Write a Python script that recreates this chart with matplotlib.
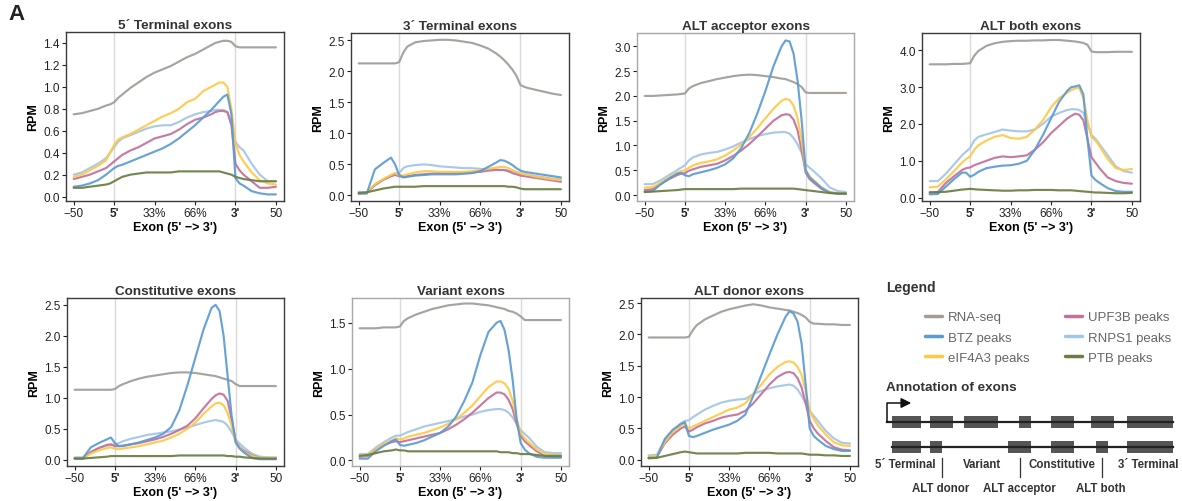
import numpy as np
import matplotlib.pyplot as plt
from matplotlib.patches import Rectangle
from matplotlib.ticker import FormatStrFormatter

plt.rcParams['font.family'] = ['Liberation Sans', 'DejaVu Sans']

# position along the meta-exon: 0-1 upstream intron, 1-4 exon body, 4-5 downstream intron
X = [0, 0.2, 0.4, 0.6, 0.8, 0.9, 1.0, 1.1, 1.2, 1.4, 1.6, 1.8, 2.0, 2.2, 2.4, 2.6,
     2.8, 3.0, 3.2, 3.4, 3.5, 3.6, 3.7, 3.8, 3.9, 4.0, 4.1, 4.2, 4.4, 4.6, 4.8, 5.0]
XTICK_LABELS = ["\u221250", "5'", "33%", "66%", "3'", "50"]

SERIES = ["RNA-seq", "BTZ peaks", "eIF4A3 peaks", "UPF3B peaks", "RNPS1 peaks", "PTB peaks"]
COLORS = ["#a09c97", "#5b9bd5", "#ffc845", "#c4709a", "#a3c5e6", "#6b7d43"]

# 5' terminal exons
t5_rna = [0.75, 0.76, 0.78, 0.80, 0.83, 0.84, 0.86, 0.90, 0.93, 0.99, 1.04, 1.09, 1.13, 1.16, 1.19, 1.23,
          1.27, 1.30, 1.34, 1.38, 1.40, 1.41, 1.42, 1.42, 1.41, 1.37, 1.36, 1.36, 1.36, 1.36, 1.36, 1.36]
t5_btz = [0.09, 0.10, 0.12, 0.15, 0.20, 0.23, 0.26, 0.28, 0.29, 0.32, 0.35, 0.38, 0.41, 0.44, 0.48, 0.53,
          0.59, 0.65, 0.72, 0.79, 0.83, 0.87, 0.91, 0.93, 0.75, 0.17, 0.12, 0.10, 0.05, 0.03, 0.02, 0.02]
t5_eif = [0.18, 0.20, 0.24, 0.28, 0.33, 0.40, 0.47, 0.52, 0.54, 0.57, 0.61, 0.65, 0.69, 0.73, 0.76, 0.80,
          0.86, 0.89, 0.96, 1.00, 1.02, 1.04, 1.04, 1.00, 0.80, 0.48, 0.38, 0.32, 0.22, 0.15, 0.12, 0.11]
t5_upf = [0.16, 0.18, 0.20, 0.23, 0.26, 0.29, 0.32, 0.35, 0.38, 0.42, 0.45, 0.49, 0.53, 0.55, 0.57, 0.61,
          0.66, 0.70, 0.72, 0.75, 0.77, 0.78, 0.78, 0.77, 0.65, 0.30, 0.24, 0.20, 0.14, 0.08, 0.08, 0.09]
t5_rnps = [0.20, 0.22, 0.26, 0.30, 0.35, 0.40, 0.45, 0.50, 0.53, 0.56, 0.59, 0.62, 0.64, 0.65, 0.65, 0.68,
           0.72, 0.75, 0.77, 0.78, 0.79, 0.79, 0.79, 0.77, 0.68, 0.50, 0.45, 0.42, 0.30, 0.20, 0.14, 0.14]
t5_ptb = [0.08, 0.08, 0.09, 0.10, 0.11, 0.12, 0.14, 0.16, 0.18, 0.20, 0.21, 0.22, 0.22, 0.22, 0.22, 0.23,
          0.23, 0.23, 0.23, 0.23, 0.23, 0.23, 0.22, 0.21, 0.20, 0.18, 0.17, 0.16, 0.15, 0.14, 0.14, 0.14]

# 3' terminal exons
t3_rna = [2.13, 2.13, 2.13, 2.13, 2.13, 2.13, 2.15, 2.30, 2.40, 2.47, 2.49, 2.50, 2.51, 2.51, 2.50, 2.48,
          2.46, 2.42, 2.37, 2.29, 2.24, 2.18, 2.11, 2.03, 1.93, 1.78, 1.75, 1.73, 1.70, 1.67, 1.64, 1.62]
t3_btz = [0.03, 0.03, 0.42, 0.52, 0.61, 0.50, 0.33, 0.29, 0.30, 0.32, 0.33, 0.34, 0.34, 0.34, 0.34, 0.35,
          0.36, 0.39, 0.46, 0.53, 0.57, 0.56, 0.53, 0.49, 0.44, 0.40, 0.38, 0.37, 0.35, 0.33, 0.31, 0.29]
t3_eif = [0.04, 0.05, 0.18, 0.26, 0.33, 0.36, 0.33, 0.32, 0.34, 0.37, 0.39, 0.39, 0.38, 0.38, 0.38, 0.38,
          0.39, 0.41, 0.43, 0.45, 0.46, 0.46, 0.44, 0.41, 0.38, 0.36, 0.34, 0.33, 0.30, 0.28, 0.26, 0.25]
t3_upf = [0.03, 0.04, 0.17, 0.25, 0.31, 0.33, 0.31, 0.30, 0.31, 0.33, 0.34, 0.35, 0.36, 0.36, 0.36, 0.36,
          0.37, 0.38, 0.40, 0.41, 0.41, 0.41, 0.39, 0.36, 0.34, 0.32, 0.31, 0.30, 0.28, 0.26, 0.24, 0.22]
t3_rnps = [0.06, 0.05, 0.16, 0.25, 0.32, 0.35, 0.36, 0.44, 0.47, 0.49, 0.50, 0.49, 0.47, 0.46, 0.45, 0.44,
           0.44, 0.43, 0.42, 0.42, 0.41, 0.41, 0.40, 0.39, 0.37, 0.35, 0.34, 0.33, 0.31, 0.29, 0.27, 0.26]
t3_ptb = [0.04, 0.05, 0.08, 0.11, 0.13, 0.14, 0.14, 0.14, 0.14, 0.14, 0.15, 0.15, 0.15, 0.15, 0.15, 0.15,
          0.15, 0.15, 0.15, 0.15, 0.15, 0.15, 0.14, 0.14, 0.13, 0.11, 0.10, 0.10, 0.10, 0.10, 0.10, 0.10]

# ALT acceptor exons
acc_rna = [2.00, 2.00, 2.01, 2.02, 2.03, 2.04, 2.05, 2.15, 2.20, 2.26, 2.30, 2.34, 2.37, 2.40, 2.42, 2.43,
           2.42, 2.40, 2.38, 2.35, 2.34, 2.31, 2.28, 2.24, 2.18, 2.07, 2.06, 2.06, 2.06, 2.06, 2.06, 2.06]
acc_btz = [0.07, 0.08, 0.22, 0.33, 0.43, 0.45, 0.40, 0.38, 0.42, 0.46, 0.50, 0.55, 0.62, 0.74, 0.95, 1.25,
           1.65, 2.10, 2.60, 3.00, 3.12, 3.10, 2.85, 2.30, 1.50, 0.50, 0.35, 0.28, 0.14, 0.05, 0.03, 0.03]
acc_eif = [0.15, 0.16, 0.25, 0.35, 0.45, 0.48, 0.50, 0.55, 0.60, 0.65, 0.68, 0.72, 0.80, 0.90, 1.02, 1.17,
           1.35, 1.55, 1.74, 1.90, 1.94, 1.92, 1.80, 1.55, 1.10, 0.50, 0.38, 0.30, 0.15, 0.06, 0.04, 0.04]
acc_upf = [0.10, 0.12, 0.22, 0.32, 0.40, 0.43, 0.44, 0.49, 0.52, 0.57, 0.60, 0.63, 0.70, 0.79, 0.90, 1.03,
           1.18, 1.34, 1.50, 1.61, 1.63, 1.62, 1.52, 1.30, 0.90, 0.45, 0.32, 0.25, 0.12, 0.05, 0.03, 0.03]
acc_rnps = [0.22, 0.22, 0.30, 0.40, 0.50, 0.55, 0.60, 0.70, 0.76, 0.82, 0.85, 0.87, 0.92, 0.98, 1.06, 1.13,
            1.19, 1.23, 1.26, 1.27, 1.27, 1.24, 1.15, 1.02, 0.85, 0.62, 0.55, 0.48, 0.33, 0.15, 0.08, 0.06]
acc_ptb = [0.06, 0.07, 0.08, 0.09, 0.10, 0.11, 0.12, 0.12, 0.12, 0.12, 0.12, 0.12, 0.12, 0.12, 0.13, 0.13,
           0.13, 0.13, 0.13, 0.13, 0.13, 0.13, 0.13, 0.12, 0.11, 0.10, 0.09, 0.08, 0.06, 0.04, 0.03, 0.03]

# ALT both exons
both_rna = [3.62, 3.62, 3.62, 3.63, 3.63, 3.64, 3.65, 3.85, 3.98, 4.12, 4.19, 4.23, 4.25, 4.26, 4.26, 4.27,
            4.27, 4.28, 4.28, 4.26, 4.25, 4.24, 4.22, 4.20, 4.15, 3.97, 3.95, 3.95, 3.95, 3.96, 3.96, 3.96]
both_btz = [0.09, 0.10, 0.30, 0.50, 0.68, 0.68, 0.57, 0.62, 0.70, 0.80, 0.84, 0.87, 0.88, 0.92, 1.00, 1.30,
            1.70, 2.15, 2.60, 2.90, 3.00, 3.02, 3.05, 2.80, 1.60, 0.60, 0.48, 0.40, 0.26, 0.18, 0.16, 0.16]
both_eif = [0.28, 0.30, 0.50, 0.72, 0.95, 1.05, 1.12, 1.30, 1.42, 1.55, 1.65, 1.70, 1.62, 1.60, 1.65, 1.85,
            2.10, 2.45, 2.70, 2.85, 2.92, 2.97, 2.98, 2.70, 2.10, 1.65, 1.55, 1.40, 1.05, 0.80, 0.75, 0.78]
both_upf = [0.12, 0.15, 0.40, 0.58, 0.75, 0.80, 0.82, 0.88, 0.92, 1.00, 1.08, 1.12, 1.10, 1.12, 1.15, 1.30,
            1.50, 1.75, 1.95, 2.15, 2.22, 2.28, 2.25, 2.10, 1.60, 1.10, 0.95, 0.80, 0.55, 0.45, 0.40, 0.38]
both_rnps = [0.45, 0.45, 0.65, 0.90, 1.15, 1.25, 1.35, 1.55, 1.65, 1.72, 1.78, 1.85, 1.82, 1.80, 1.80, 1.85,
             2.00, 2.20, 2.30, 2.38, 2.40, 2.40, 2.38, 2.30, 2.00, 1.70, 1.60, 1.45, 1.15, 0.85, 0.72, 0.68]
both_ptb = [0.15, 0.15, 0.16, 0.19, 0.22, 0.23, 0.24, 0.23, 0.22, 0.21, 0.20, 0.19, 0.19, 0.20, 0.20, 0.21,
            0.21, 0.21, 0.20, 0.20, 0.20, 0.19, 0.18, 0.17, 0.16, 0.15, 0.14, 0.14, 0.13, 0.12, 0.12, 0.13]

# constitutive exons
con_rna = [1.13, 1.13, 1.13, 1.13, 1.13, 1.13, 1.14, 1.19, 1.22, 1.27, 1.31, 1.34, 1.36, 1.38, 1.40, 1.41,
           1.41, 1.40, 1.38, 1.36, 1.35, 1.33, 1.31, 1.29, 1.27, 1.22, 1.19, 1.19, 1.19, 1.19, 1.19, 1.19]
con_btz = [0.02, 0.02, 0.20, 0.27, 0.33, 0.36, 0.27, 0.22, 0.22, 0.25, 0.28, 0.32, 0.36, 0.42, 0.53, 0.80,
           1.20, 1.65, 2.10, 2.45, 2.50, 2.40, 2.00, 1.35, 0.70, 0.28, 0.18, 0.12, 0.03, 0.01, 0.01, 0.01]
con_eif = [0.02, 0.02, 0.10, 0.15, 0.19, 0.20, 0.18, 0.17, 0.18, 0.20, 0.22, 0.25, 0.28, 0.31, 0.36, 0.42,
           0.50, 0.60, 0.74, 0.86, 0.91, 0.92, 0.88, 0.75, 0.55, 0.28, 0.20, 0.13, 0.06, 0.03, 0.03, 0.03]
con_upf = [0.02, 0.02, 0.12, 0.19, 0.24, 0.25, 0.22, 0.22, 0.23, 0.25, 0.27, 0.30, 0.33, 0.37, 0.42, 0.48,
           0.55, 0.67, 0.83, 0.98, 1.04, 1.07, 1.05, 0.95, 0.65, 0.30, 0.20, 0.15, 0.07, 0.03, 0.02, 0.02]
con_rnps = [0.04, 0.04, 0.13, 0.19, 0.23, 0.24, 0.25, 0.27, 0.30, 0.34, 0.37, 0.40, 0.42, 0.44, 0.46, 0.49,
            0.52, 0.56, 0.60, 0.63, 0.64, 0.63, 0.61, 0.55, 0.45, 0.32, 0.26, 0.20, 0.10, 0.05, 0.04, 0.04]
con_ptb = [0.02, 0.02, 0.03, 0.04, 0.05, 0.06, 0.06, 0.06, 0.06, 0.06, 0.06, 0.06, 0.06, 0.06, 0.06, 0.07,
           0.07, 0.07, 0.07, 0.07, 0.07, 0.07, 0.07, 0.06, 0.06, 0.05, 0.05, 0.04, 0.03, 0.02, 0.02, 0.02]

# variant exons
var_rna = [1.44, 1.44, 1.44, 1.45, 1.45, 1.45, 1.46, 1.52, 1.55, 1.59, 1.62, 1.65, 1.67, 1.69, 1.70, 1.71,
           1.71, 1.70, 1.69, 1.67, 1.66, 1.65, 1.63, 1.62, 1.60, 1.57, 1.53, 1.53, 1.53, 1.53, 1.53, 1.53]
var_btz = [0.02, 0.02, 0.10, 0.16, 0.21, 0.23, 0.17, 0.16, 0.17, 0.19, 0.22, 0.26, 0.30, 0.37, 0.48, 0.65,
           0.85, 1.15, 1.40, 1.50, 1.52, 1.42, 1.20, 0.88, 0.45, 0.19, 0.12, 0.08, 0.04, 0.03, 0.03, 0.03]
var_eif = [0.05, 0.06, 0.12, 0.18, 0.22, 0.24, 0.23, 0.24, 0.26, 0.28, 0.30, 0.33, 0.36, 0.40, 0.45, 0.52,
           0.60, 0.70, 0.80, 0.86, 0.86, 0.84, 0.78, 0.65, 0.45, 0.30, 0.24, 0.20, 0.12, 0.07, 0.06, 0.06]
var_upf = [0.04, 0.05, 0.12, 0.17, 0.20, 0.21, 0.20, 0.21, 0.22, 0.24, 0.26, 0.28, 0.30, 0.34, 0.39, 0.45,
           0.52, 0.60, 0.68, 0.74, 0.74, 0.72, 0.66, 0.56, 0.40, 0.27, 0.21, 0.17, 0.10, 0.05, 0.04, 0.04]
var_rnps = [0.07, 0.07, 0.14, 0.20, 0.25, 0.27, 0.27, 0.29, 0.31, 0.34, 0.37, 0.39, 0.41, 0.43, 0.45, 0.48,
            0.50, 0.53, 0.55, 0.56, 0.56, 0.55, 0.52, 0.47, 0.40, 0.33, 0.29, 0.25, 0.15, 0.09, 0.08, 0.08]
var_ptb = [0.05, 0.06, 0.08, 0.10, 0.11, 0.12, 0.11, 0.11, 0.10, 0.10, 0.10, 0.10, 0.10, 0.10, 0.10, 0.10,
           0.10, 0.10, 0.10, 0.10, 0.09, 0.09, 0.09, 0.08, 0.08, 0.07, 0.07, 0.07, 0.06, 0.05, 0.05, 0.05]

# ALT donor exons
don_rna = [1.95, 1.95, 1.95, 1.95, 1.95, 1.95, 1.96, 2.07, 2.15, 2.24, 2.30, 2.36, 2.40, 2.43, 2.46, 2.48,
           2.46, 2.43, 2.41, 2.39, 2.38, 2.36, 2.34, 2.31, 2.27, 2.20, 2.17, 2.17, 2.16, 2.16, 2.15, 2.15]
don_btz = [0.02, 0.03, 0.33, 0.48, 0.57, 0.60, 0.38, 0.36, 0.38, 0.43, 0.48, 0.52, 0.56, 0.62, 0.72, 1.02,
           1.35, 1.68, 2.00, 2.28, 2.37, 2.33, 2.20, 1.85, 1.20, 0.50, 0.38, 0.32, 0.22, 0.17, 0.14, 0.14]
don_eif = [0.05, 0.06, 0.28, 0.44, 0.54, 0.57, 0.50, 0.53, 0.56, 0.62, 0.68, 0.74, 0.80, 0.83, 0.90, 1.05,
           1.20, 1.36, 1.48, 1.56, 1.57, 1.55, 1.48, 1.35, 1.10, 0.78, 0.65, 0.55, 0.40, 0.28, 0.23, 0.22]
don_upf = [0.03, 0.04, 0.26, 0.40, 0.50, 0.53, 0.45, 0.48, 0.52, 0.58, 0.62, 0.67, 0.70, 0.72, 0.78, 0.90,
           1.05, 1.20, 1.32, 1.39, 1.40, 1.38, 1.30, 1.15, 0.90, 0.62, 0.50, 0.42, 0.30, 0.20, 0.16, 0.15]
don_rnps = [0.07, 0.08, 0.30, 0.46, 0.58, 0.62, 0.63, 0.68, 0.72, 0.80, 0.86, 0.91, 0.94, 0.96, 0.97, 1.05,
            1.10, 1.14, 1.17, 1.19, 1.20, 1.18, 1.12, 1.02, 0.90, 0.78, 0.70, 0.62, 0.46, 0.34, 0.27, 0.26]
don_ptb = [0.03, 0.03, 0.06, 0.09, 0.12, 0.13, 0.12, 0.11, 0.10, 0.10, 0.10, 0.10, 0.10, 0.10, 0.11, 0.11,
           0.11, 0.11, 0.10, 0.10, 0.10, 0.10, 0.10, 0.10, 0.09, 0.08, 0.08, 0.08, 0.07, 0.07, 0.06, 0.06]

W, H = 1182, 502
fig = plt.figure(figsize=(W / 100, H / 100), dpi=100)

def px_axes(l, t, r, b):
    return fig.add_axes([l / W, 1 - b / H, (r - l) / W, (b - t) / H])

# title, series (legend order), frame box in px, ylim, ytick step, spine colour
panels = [
    ("5\u00b4 Terminal exons", [t5_rna, t5_btz, t5_eif, t5_upf, t5_rnps, t5_ptb], (66, 33, 284, 202), (-0.04, 1.5), 0.2, "#3a3a3a"),
    ("3\u00b4 Terminal exons", [t3_rna, t3_btz, t3_eif, t3_upf, t3_rnps, t3_ptb], (351, 34, 569, 202), (-0.09, 2.62), 0.5, "#3a3a3a"),
    ("ALT acceptor exons", [acc_rna, acc_btz, acc_eif, acc_upf, acc_rnps, acc_ptb], (637, 34, 854, 202), (-0.12, 3.27), 0.5, "#a8a8a8"),
    ("ALT both exons", [both_rna, both_btz, both_eif, both_upf, both_rnps, both_ptb], (922, 34, 1140, 202), (-0.09, 4.47), 1.0, "#3a3a3a"),
    ("Constitutive exons", [con_rna, con_btz, con_eif, con_upf, con_rnps, con_ptb], (67, 299, 284, 467), (-0.10, 2.61), 0.5, "#3a3a3a"),
    ("Variant exons", [var_rna, var_btz, var_eif, var_upf, var_rnps, var_ptb], (352, 299, 569, 467), (-0.06, 1.77), 0.5, "#a8a8a8"),
    ("ALT donor exons", [don_rna, don_btz, don_eif, don_upf, don_rnps, don_ptb], (641, 299, 858, 467), (-0.10, 2.58), 0.5, "#3a3a3a"),
]
draw_order = [0, 4, 3, 2, 1, 5]

handles = None
for title, data, box, ylim, step, spc in panels:
    ax = px_axes(*box)
    ax.axvline(1, color="#dadada", lw=1, zorder=0)
    ax.axvline(4, color="#dadada", lw=1, zorder=0)
    lines = {}
    for k in draw_order:
        ln, = ax.plot(X, data[k], color=COLORS[k], lw=1.55, alpha=0.92,
                      solid_joinstyle="round", solid_capstyle="round", label=SERIES[k])
        lines[k] = ln
    if handles is None:
        handles = [lines[k] for k in range(len(SERIES))]
    ax.set_xlim(-0.19, 5.2)
    ax.set_ylim(*ylim)
    ax.set_yticks(np.arange(0, ylim[1], step))
    ax.yaxis.set_major_formatter(FormatStrFormatter("%.1f"))
    ax.set_xticks(range(6))
    ax.set_xticklabels(XTICK_LABELS)
    for i in (1, 4):
        ax.get_xticklabels()[i].set_fontweight("bold")
    ax.tick_params(length=3, width=0.8, labelsize=8.5, pad=1.5, colors="#222222")
    for sp in ax.spines.values():
        sp.set_color(spc)
        sp.set_linewidth(1.0)
    ax.set_title(title, fontsize=9.7, fontweight="bold", color="#333333", pad=3)
    ax.set_xlabel("Exon (5' \u2212> 3')", fontsize=9, fontweight="bold", labelpad=1)
    ax.set_ylabel("RPM", fontsize=9, fontweight="bold", labelpad=3)

# overlay in pixel coordinates for panel letter, legend and exon schematic
ov = fig.add_axes([0, 0, 1, 1], zorder=-1)
ov.set_xlim(0, W)
ov.set_ylim(H, 0)
ov.axis("off")

ov.text(8, 15, "A", fontsize=16, fontweight="bold", va="center", ha="left", color="#222222")
ov.text(886, 288, "Legend", fontsize=10, fontweight="bold", va="center", color="#333333")
ov.text(886, 388, "Annotation of exons", fontsize=9.7, fontweight="bold", va="center", color="#333333")

leg = fig.legend(handles, SERIES, loc="upper left", bbox_to_anchor=(925 / W, 1 - 312 / H), ncol=2,
                 frameon=False, fontsize=9.5, handlelength=1.3, handletextpad=0.45, columnspacing=2.7,
                 labelspacing=0.62, borderaxespad=0, borderpad=0, labelcolor="#666666")
for lh in leg.get_lines():
    lh.set_linewidth(2.5)
    lh.set_alpha(1)

# exon schematic
top_exons = [(892, 921), (930, 953), (964, 998), (1019, 1031), (1051, 1074), (1091, 1114), (1127, 1173)]
bot_exons = [(892, 921), (930, 942), (1008, 1031), (1051, 1074), (1096, 1108), (1127, 1173)]
ov.plot([887, 1173], [423, 423], color="#222222", lw=1.6)
ov.plot([892, 1173], [448, 448], color="#222222", lw=1.6)
for a, b in top_exons:
    ov.add_patch(Rectangle((a, 417), b - a, 12, color="#555555", lw=0))
for a, b in bot_exons:
    ov.add_patch(Rectangle((a, 442), b - a, 12, color="#555555", lw=0))
ov.plot([887, 887, 905], [423, 404, 404], color="#111111", lw=1.1)
ov.annotate("", xy=(914, 404), xytext=(903, 404),
            arrowprops=dict(arrowstyle="-|>,head_length=0.6,head_width=0.3", color="#111111", lw=1.1))

ann_top = [("5\u00b4 Terminal", 905), ("Variant", 982), ("Constitutive", 1062), ("3\u00b4 Terminal", 1148)]
ann_bot = [("ALT donor", 941), ("ALT acceptor", 1019), ("ALT both", 1101)]
for s, x in ann_top:
    ov.text(x, 465, s, fontsize=8.3, fontweight="bold", color="#333333", ha="center", va="center")
for s, x in ann_bot:
    ov.text(x, 489, s, fontsize=8.3, fontweight="bold", color="#333333", ha="center", va="center")
    ov.plot([x + 1, x + 1], [459, 478], color="#333333", lw=0.9)

fig.savefig("out.png", dpi=100)
